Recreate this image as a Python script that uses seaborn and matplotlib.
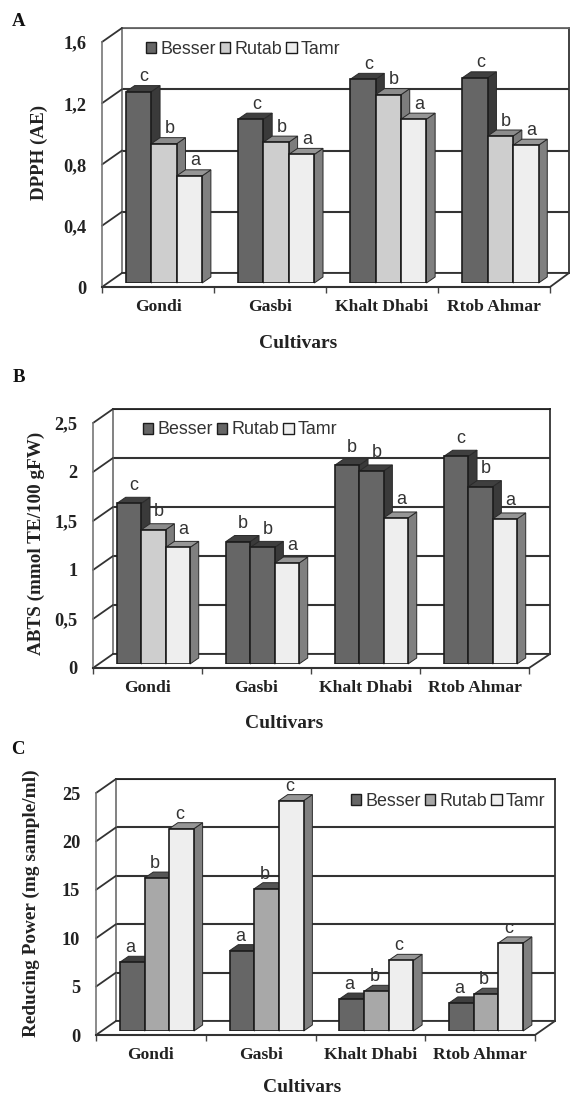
import matplotlib
matplotlib.use("Agg")
import matplotlib.pyplot as plt
import pandas as pd
import seaborn as sns
from matplotlib.patches import ConnectionPatch, Patch, Polygon
from matplotlib.transforms import IdentityTransform

cultivars = ["Gondi", "Gasbi", "Khalt Dhabi", "Rtob Ahmar"]
stages = ["Besser", "Rutab", "Tamr"]

dpph_besser = [1.25, 1.07, 1.33, 1.34]
dpph_rutab = [0.91, 0.92, 1.23, 0.96]
dpph_tamr = [0.70, 0.84, 1.07, 0.90]
dpph_letters = [["c", "c", "c", "c"], ["b", "b", "b", "b"], ["a", "a", "a", "a"]]
dpph_ticks = [0, 0.4, 0.8, 1.2, 1.6]
dpph_ticklabels = ["0", "0,4", "0,8", "1,2", "1,6"]

abts_besser = [1.64, 1.25, 2.03, 2.12]
abts_rutab = [1.37, 1.19, 1.97, 1.81]
abts_tamr = [1.19, 1.03, 1.49, 1.48]
abts_letters = [["c", "b", "b", "c"], ["b", "b", "b", "b"], ["a", "a", "a", "a"]]
abts_ticks = [0, 0.5, 1, 1.5, 2, 2.5]
abts_ticklabels = ["0", "0,5", "1", "1,5", "2", "2,5"]

rp_besser = [7.1, 8.3, 3.3, 2.9]
rp_rutab = [15.8, 14.7, 4.1, 3.8]
rp_tamr = [20.9, 23.8, 7.3, 9.1]
rp_letters = [["a", "a", "a", "a"], ["b", "b", "b", "b"], ["c", "c", "c", "c"]]
rp_ticks = [0, 5, 10, 15, 20, 25]
rp_ticklabels = ["0", "5", "10", "15", "20", "25"]

DARK, LIGHT, PALE, MID = "#666666", "#cecece", "#eeeeee", "#a8a8a8"
SHADES = {DARK: ("#3a3a3a", "#3f3f3f"), LIGHT: ("#7d7d7d", "#8c8c8c"),
          PALE: ("#808080", "#969696"), MID: ("#757575", "#555555")}

W, H = 570, 1100
SERIF = "Liberation Serif"
SANS = "Liberation Sans"
sns.set_theme(style="white")
plt.rcParams["font.family"] = [SERIF, "DejaVu Serif"]
fig = plt.figure(figsize=(W / 100, H / 100), dpi=100, facecolor="white")


def axes_px(l, r, t, b, z):
    return fig.add_axes([l / W, 1 - b / H, (r - l) / W, (b - t) / H], zorder=z, facecolor="none")


def panel(vals, letters, ticks, ticklabels, ylabel, tag, palette, override, lay):
    df = pd.DataFrame({
        "cultivar": cultivars * 3,
        "stage": [s for s in stages for _ in cultivars],
        "value": [v for series in vals for v in series],
    })
    ymax = ticks[-1]
    xlim = (-0.5, 3.5)
    l, r, t, b = lay["bars"]
    fl, fr, ft, fb = lay["front"]
    bl, br, bt, bb = lay["back"]
    ax_back = axes_px(bl, br, bt, bb, 1)
    ax_front = axes_px(fl, fr, ft, fb, 2)
    ax = axes_px(l, r, t, b, 3)

    # back wall and gridlines
    ax_back.set(xlim=xlim, ylim=(0, ymax), xticks=[], yticks=ticks, yticklabels=[])
    ax_back.grid(axis="y", color="#333333", lw=1.5)
    ax_back.set_axisbelow(True)
    ax_back.tick_params(length=0)
    for side, sp in ax_back.spines.items():
        sp.set_visible(True)
        sp.set_linewidth(1.3)
        sp.set_color("#777777" if side == "left" else "#333333")
    ax_back.spines["top"].set_color(lay["topcolor"])

    # front axis lines with ticks and labels
    ax_front.set(xlim=xlim, ylim=(0, ymax))
    ax_front.set_yticks(ticks, ticklabels)
    ax_front.set_xticks([-0.5, 0.5, 1.5, 2.5, 3.5], [""] * 5)
    ax_front.set_xticks(range(4), cultivars, minor=True)
    ax_front.tick_params(axis="y", length=4.3, width=1, color="#555555", pad=7,
                         labelsize=13.2, labelcolor="#222222")
    ax_front.tick_params(axis="x", which="major", length=4, width=1, color="#444444", bottom=True)
    ax_front.tick_params(axis="x", which="minor", length=0, pad=8.5,
                         labelsize=12.6, labelcolor="#222222")
    for lbl in ax_front.get_xticklabels(minor=True) + ax_front.get_yticklabels():
        lbl.set_fontweight("bold")
    for side in ("top", "right"):
        ax_front.spines[side].set_visible(False)
    ax_front.spines["left"].set_color("#777777")
    ax_front.spines["left"].set_linewidth(1.2)
    ax_front.spines["bottom"].set_color("#333333")
    ax_front.spines["bottom"].set_linewidth(1.5)

    # depth diagonals between the two planes
    joins = [(xlim[0], v) for v in ticks] + [(xlim[1], 0)]
    for x, v in joins:
        con = ConnectionPatch((x, v), (x, v), coordsA=ax_front.transData, coordsB=ax_back.transData,
                              color="#333333", lw=1.3, zorder=1.5)
        fig.add_artist(con)

    # bars
    sns.barplot(data=df, x="cultivar", y="value", hue="stage", hue_order=stages, order=cultivars,
                palette=palette, width=lay["width"], gap=0, dodge=True, saturation=1,
                edgecolor="#1c1c1c", linewidth=1.2, legend=False, ax=ax)
    ax.set(xlim=xlim, ylim=(0, ymax), xlabel="", ylabel="")
    ax.axis("off")

    dep_x, dep_y = lay["depth"]
    for si, cont in enumerate(ax.containers):
        for ci, bar in enumerate(cont):
            if (si, ci) in override:
                bar.set_facecolor(override[(si, ci)])
            face = matplotlib.colors.to_hex(bar.get_facecolor())
            side_c, top_c = SHADES[face]
            x0, x1 = bar.get_x(), bar.get_x() + bar.get_width()
            h = bar.get_height()
            (px0, py0), (px1, py1) = ax.transData.transform([(x0, 0), (x1, h)])
            z = 3 + 0.1 * (ci * 3 + si)
            side = Polygon([(px1, py0), (px1 + dep_x, py0 + dep_y), (px1 + dep_x, py1 + dep_y), (px1, py1)],
                           closed=True, fc=side_c, ec="#2a2a2a", lw=0.7, transform=IdentityTransform(),
                           zorder=z, clip_on=False)
            top = Polygon([(px0, py1), (px0 + dep_x, py1 + dep_y), (px1 + dep_x, py1 + dep_y), (px1, py1)],
                          closed=True, fc=top_c, ec="#2a2a2a", lw=0.7, transform=IdentityTransform(),
                          zorder=z, clip_on=False)
            ax.add_artist(side)
            ax.add_artist(top)
            bar.set_zorder(z + 0.05)
            ax.annotate(letters[si][ci], xy=((x0 + x1) / 2, h),
                        xytext=(lay["letter"][0] * 0.72, lay["letter"][1] * 0.72),
                        textcoords="offset points", ha="center", va="center",
                        family=SANS, fontsize=13, color="#333333", zorder=20, annotation_clip=False)

    # legend
    handles = [Patch(fc=c, ec="#1c1c1c", lw=1) for c in palette]
    ax.legend(handles, stages, ncols=3, frameon=False, loc="center left",
              bbox_to_anchor=(lay["legend"][0] / W, 1 - lay["legend"][1] / H),
              bbox_transform=fig.transFigure, prop={"family": SANS, "size": 12.9},
              labelcolor="#333333", handlelength=0.58, handleheight=0.58, handletextpad=0.25,
              columnspacing=lay["colspace"], borderpad=0, borderaxespad=0).set_zorder(30)

    # texts
    fig.text(lay["ylabel"][0] / W, 1 - lay["ylabel"][1] / H, ylabel, rotation=90, ha="center", va="center",
             fontweight="bold", fontsize=lay["ylsize"], color="#222222")
    fig.text(lay["xlabel"][0] / W, 1 - lay["xlabel"][1] / H, "Cultivars", ha="center", va="center",
             fontweight="bold", fontsize=14, color="#222222")
    fig.text(lay["tag"][0] / W, 1 - lay["tag"][1] / H, tag, ha="center", va="center",
             fontweight="bold", fontsize=13.5, color="#111111")


panel([dpph_besser, dpph_rutab, dpph_tamr], dpph_letters, dpph_ticks, dpph_ticklabels,
      "DPPH (AE)", "A", [DARK, LIGHT, PALE], {},
      dict(bars=(108, 556.5, 38, 283), front=(102, 550, 42, 287), back=(122, 569, 28, 273),
           width=0.68, depth=(8.7, 6), letter=(5.5, 15), legend=(146, 49), colspace=0.2,
           ylabel=(39, 152), xlabel=(298, 343), tag=(19, 22), ylsize=13.7, topcolor="#666666"))

panel([abts_besser, abts_rutab, abts_tamr], abts_letters, abts_ticks, abts_ticklabels,
      "ABTS (mmol TE/100 gFW)", "B", [DARK, DARK, PALE], {(1, 0): LIGHT},
      dict(bars=(99, 535, 419, 664), front=(93, 529, 423, 668), back=(113, 550, 409, 654),
           width=0.67, depth=(8.7, 6), letter=(5, 18), legend=(143, 430), colspace=0.2,
           ylabel=(36, 543), xlabel=(284, 724), tag=(19, 378), ylsize=13.8, topcolor="#222222"))

panel([rp_besser, rp_rutab, rp_tamr], rp_letters, rp_ticks, rp_ticklabels,
      "Reducing Power (mg sample/ml)", "C", [DARK, MID, PALE], {},
      dict(bars=(102, 541, 789, 1031), front=(96, 535, 793, 1035), back=(116, 555, 779, 1021),
           width=0.675, depth=(8.7, 6), letter=(-2, 14.5), legend=(351, 801), colspace=0.2,
           ylabel=(31, 903), xlabel=(302, 1088), tag=(18, 749), ylsize=13.9, topcolor="#222222"))

fig.savefig("out.png", dpi=100, facecolor="white")
